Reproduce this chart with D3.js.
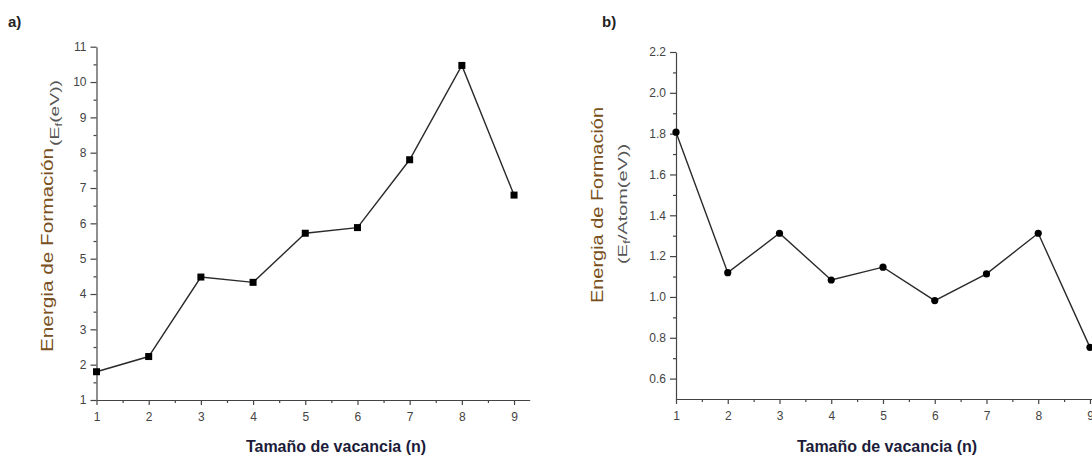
<!DOCTYPE html>
<html>
<head>
<meta charset="utf-8">
<script src="https://cdn.jsdelivr.net/npm/d3@7"></script>
<style>
  html, body { margin: 0; padding: 0; background: #fff; }
  svg { display: block; font-family: Arial, "Liberation Sans", sans-serif; }
</style>
</head>
<body>
<svg id="chart" width="1092" height="459"></svg>
<script>
// ---- data ----
const vacancySizes = [1, 2, 3, 4, 5, 6, 7, 8, 9];
const formationEnergy = [1.80, 2.23, 4.48, 4.33, 5.72, 5.88, 7.80, 10.47, 6.80];      // E_f (eV)
const formationEnergyPerAtom = [1.807, 1.119, 1.312, 1.083, 1.146, 0.982, 1.113, 1.312, 0.753]; // E_f/Atom (eV)
const xTickValues = [1, 2, 3, 4, 5, 6, 7, 8, 9];
const yTickValuesA = [1, 2, 3, 4, 5, 6, 7, 8, 9, 10, 11];
const yTickValuesB = [0.6, 0.8, 1.0, 1.2, 1.4, 1.6, 1.8, 2.0, 2.2];
const xMinorA = [1.5, 2.5, 3.5, 4.5, 5.5, 6.5, 7.5, 8.5];
const yMinorA = [1.5, 2.5, 3.5, 4.5, 5.5, 6.5, 7.5, 8.5, 9.5, 10.5];
const yMinorB = [0.7, 0.9, 1.1, 1.3, 1.5, 1.7, 1.9, 2.1];
const panelLabels = ["a)", "b)"];
const xTitle = "Tamaño de vacancia (n)";
const yTitle = "Energia de Formación";

const svg = d3.select("#chart");
const axisColor = "#444";
const lineColor = "#2a2a2a";
const titleColor = "#7a5020";

function drawPanel(cfg) {
  const g = svg.append("g");
  const x = d3.scaleLinear().domain(cfg.xDomain).range(cfg.xRange);
  const y = d3.scaleLinear().domain(cfg.yDomain).range(cfg.yRange);
  const x0 = cfg.xRange[0], y0 = cfg.yRange[0];

  // minor ticks
  g.append("g").attr("transform", `translate(0,${y0})`)
    .call(d3.axisBottom(x).tickValues(xMinorA).tickSize(3).tickFormat(""))
    .call(a => a.select(".domain").remove());
  g.append("g").attr("transform", `translate(${x0},0)`)
    .call(d3.axisLeft(y).tickValues(cfg.yMinor).tickSize(3).tickFormat(""))
    .call(a => a.select(".domain").remove());

  // major axes
  const xa = g.append("g").attr("transform", `translate(0,${y0})`)
    .call(d3.axisBottom(x).tickValues(xTickValues).tickSize(5).tickSizeOuter(0).tickPadding(7).tickFormat(d3.format("d")));
  const ya = g.append("g").attr("transform", `translate(${x0},0)`)
    .call(d3.axisLeft(y).tickValues(cfg.yTicks).tickSize(6).tickSizeOuter(0).tickPadding(4).tickFormat(cfg.yFormat));
  [xa, ya].forEach(a => {
    a.selectAll("path, line").attr("stroke", axisColor).attr("stroke-width", 1.2);
    a.selectAll("text").attr("fill", "#444").attr("font-size", 12);
  });
  g.selectAll("line").attr("stroke", axisColor).attr("stroke-width", 1.2);

  // line
  const pts = vacancySizes.map((n, i) => [n, cfg.values[i]]);
  g.append("path").datum(pts)
    .attr("fill", "none").attr("stroke", lineColor).attr("stroke-width", 1.4)
    .attr("d", d3.line().x(d => x(d[0])).y(d => y(d[1])));

  if (cfg.marker === "square") {
    g.selectAll("rect.m").data(pts).enter().append("rect")
      .attr("x", d => x(d[0]) - 3.5).attr("y", d => y(d[1]) - 3.5)
      .attr("width", 7).attr("height", 7).attr("fill", "#000");
  } else {
    g.selectAll("circle.m").data(pts).enter().append("circle")
      .attr("cx", d => x(d[0])).attr("cy", d => y(d[1])).attr("r", 3.6).attr("fill", "#000");
  }

  // panel label
  svg.append("text").attr("x", cfg.labelX).attr("y", 27)
    .attr("font-size", 15).attr("font-weight", "bold").attr("fill", "#222")
    .text(cfg.label);

  // x title
  svg.append("text").attr("x", cfg.xTitleX).attr("y", 452)
    .attr("text-anchor", "middle").attr("font-size", 16).attr("font-weight", "bold")
    .attr("fill", "#1c1c3a").text(xTitle);

  // y title (rotated)
  svg.append("text")
    .attr("transform", `translate(${cfg.yTitleX},${cfg.yTitleY}) rotate(-90)`)
    .attr("text-anchor", "middle").attr("font-size", 17).attr("fill", titleColor)
    .attr("textLength", cfg.yTitleLen).attr("lengthAdjust", "spacingAndGlyphs")
    .text(yTitle);

  // y subtitle
  const sub = svg.append("text")
    .attr("transform", `translate(${cfg.subX},${cfg.subY}) rotate(-90)`)
    .attr("text-anchor", "middle").attr("font-size", 12.5).attr("fill", "#555")
    .attr("textLength", cfg.subLen).attr("lengthAdjust", "spacingAndGlyphs");
  sub.append("tspan").text("(E");
  sub.append("tspan").attr("font-size", 9).attr("dy", 3).text("f");
  sub.append("tspan").attr("dy", -3).text(cfg.subRest);
}

drawPanel({
  xDomain: [1, 9.3], xRange: [96.5, 529.7],
  yDomain: [1, 11], yRange: [400, 46.7],
  yTicks: yTickValuesA, yMinor: yMinorA, yFormat: d3.format("d"),
  values: formationEnergy, marker: "square",
  label: panelLabels[0], labelX: 8,
  xTitleX: 336, yTitleX: 53, yTitleY: 250, yTitleLen: 204,
  subX: 59, subY: 113, subLen: 66, subRest: "(eV))"
});

drawPanel({
  xDomain: [1, 9.3], xRange: [676, 1105.5],
  yDomain: [0.5, 2.2], yRange: [399, 52],
  yTicks: yTickValuesB, yMinor: yMinorB, yFormat: d3.format(".1f"),
  values: formationEnergyPerAtom, marker: "circle",
  label: panelLabels[1], labelX: 602,
  xTitleX: 887, yTitleX: 603, yTitleY: 205, yTitleLen: 196,
  subX: 627, subY: 204, subLen: 120, subRest: "/Atom(eV))"
});
</script>
</body>
</html>
